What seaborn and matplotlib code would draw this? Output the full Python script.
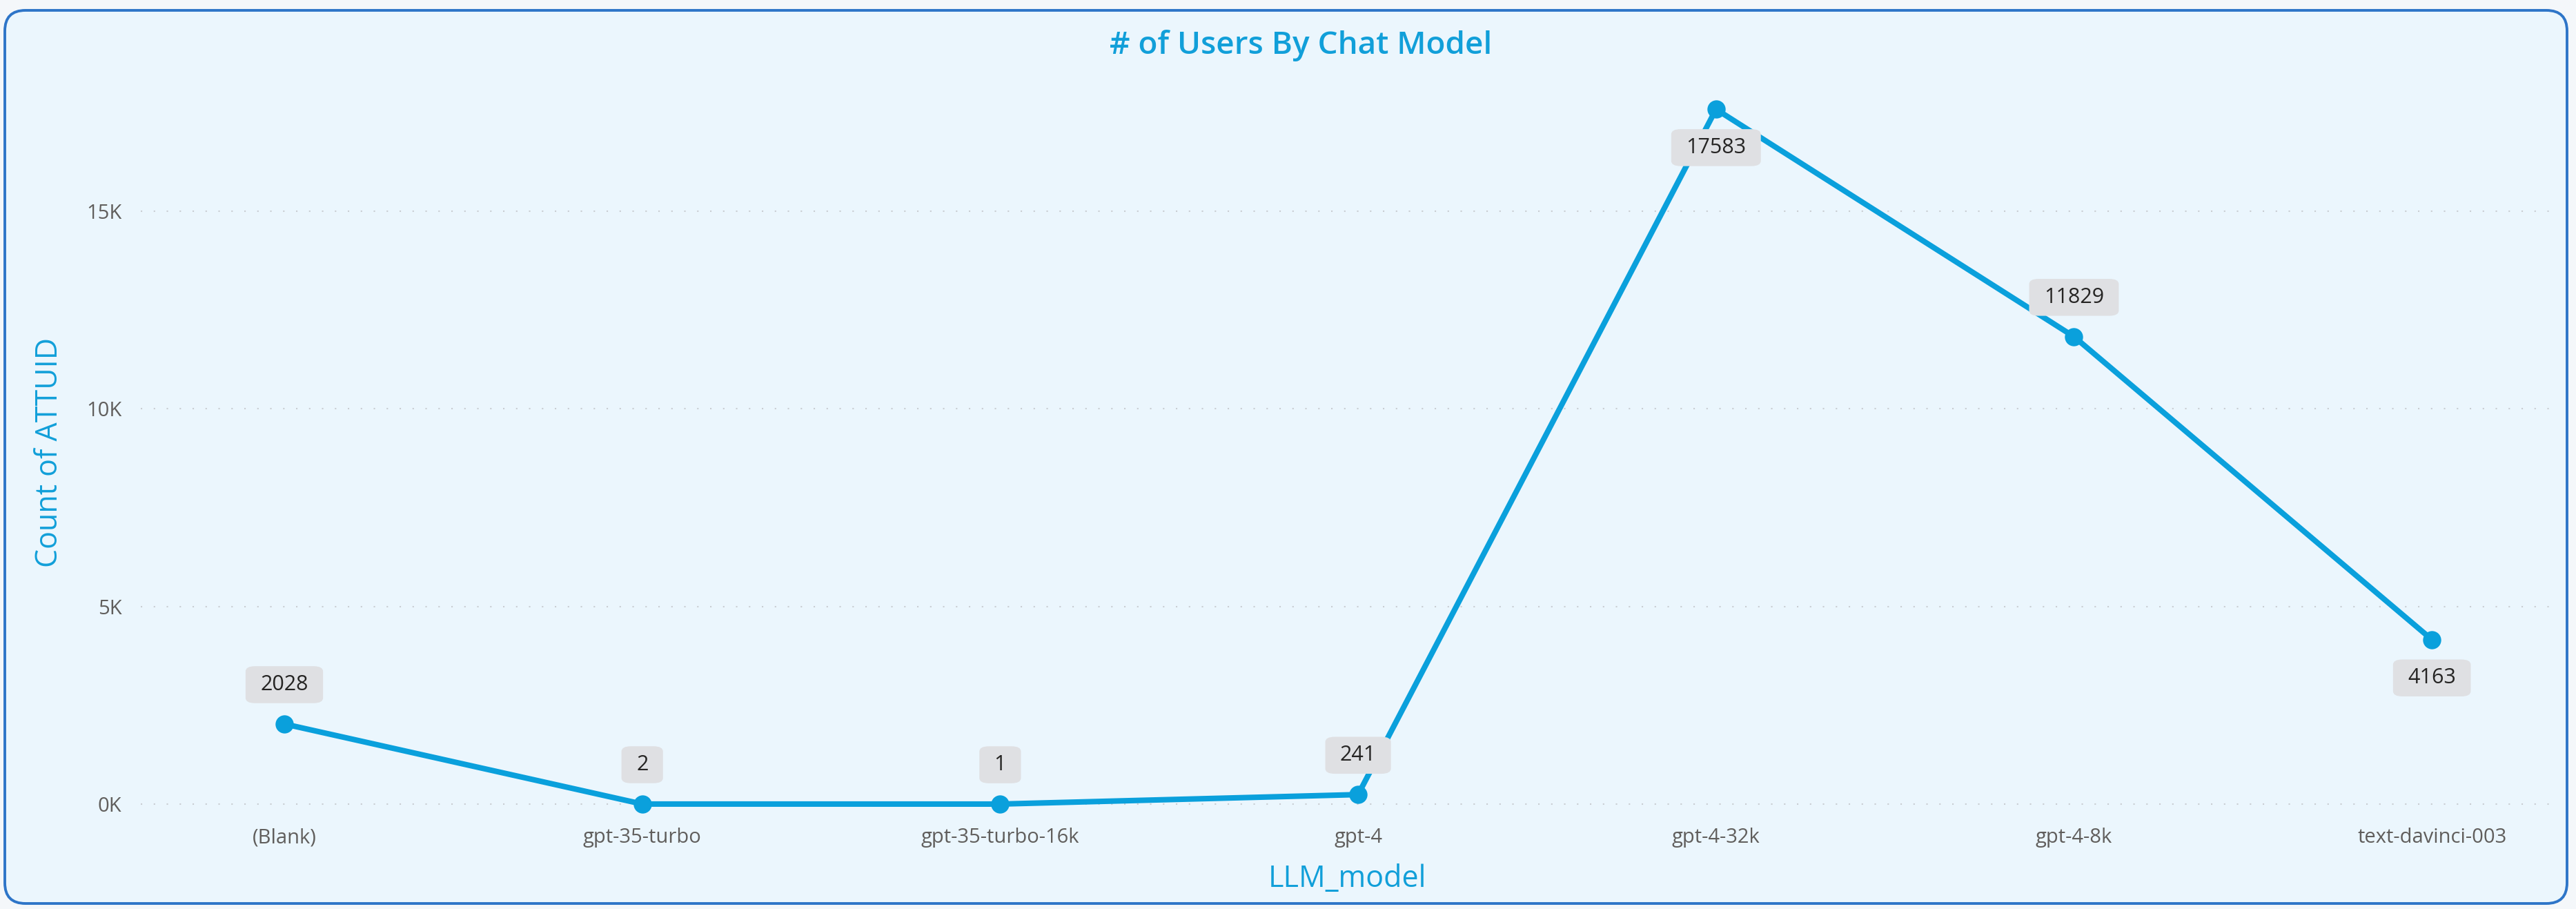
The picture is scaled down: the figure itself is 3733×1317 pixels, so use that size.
import pandas as pd
import matplotlib.pyplot as plt
import seaborn as sns
from matplotlib.patches import FancyBboxPatch
from matplotlib.ticker import FuncFormatter

# Users per chat model
models = ['(Blank)', 'gpt-35-turbo', 'gpt-35-turbo-16k', 'gpt-4',
          'gpt-4-32k', 'gpt-4-8k', 'text-davinci-003']
users = [2028, 2, 1, 241, 17583, 11829, 4163]
y_ticks = [0, 5000, 10000, 15000]

df = pd.DataFrame({'LLM_model': models, 'count': users})

line_color = '#0AA0DC'
title_color = '#119FD9'
bg_color = '#EBF6FD'

sns.set_theme(style='white')
plt.rcParams['font.family'] = ['Open Sans', 'DejaVu Sans']

fig = plt.figure(figsize=(37.33, 13.17), dpi=100)
fig.patch.set_facecolor('#F4F7FA')

# rounded card behind the chart
card = FancyBboxPatch((7 / 3733, 8 / 1317), 3713 / 3733, 1294 / 1317,
                      boxstyle='round,pad=0,rounding_size=0.008',
                      transform=fig.transFigure, facecolor=bg_color,
                      edgecolor='#2E75C8', linewidth=2.8,
                      mutation_aspect=3733 / 1317, zorder=-10)
fig.patches.append(card)

ax = fig.add_axes([204 / 3733, 0.104, (3700 - 204) / 3733, 0.820])
ax.set_facecolor('none')

sns.lineplot(data=df, x='LLM_model', y='count', sort=False, ax=ax,
             color=line_color, linewidth=5.8, marker='o', markersize=19,
             markeredgewidth=0, markeredgecolor=line_color)

ax.set_xlim(-0.401, 6.339)
ax.set_ylim(-262, 18600)
ax.set_yticks(y_ticks)
ax.yaxis.set_major_formatter(FuncFormatter(lambda v, p: f'{int(v / 1000)}K'))
ax.grid(axis='y', color='#C9CDD2', linestyle=(0, (1, 8)), linewidth=1.5)
ax.grid(axis='x', visible=False)
for s in ax.spines.values():
    s.set_visible(False)
ax.tick_params(axis='both', length=0, labelsize=21, labelcolor='#605E5C')
ax.tick_params(axis='y', pad=20)
ax.tick_params(axis='x', pad=14)

ax.set_xlabel('LLM_model', fontsize=31, color=title_color)
ax.set_ylabel('Count of ATTUID', fontsize=31, color=title_color)
ax.xaxis.set_label_coords(0.5, -0.0665)
ax.yaxis.set_label_coords(-0.0315, 0.486)

fig.text(0.505, 0.950, '# of Users By Chat Model', ha='center', va='center',
         fontsize=33, fontweight='semibold', color=title_color)

# data labels in grey boxes
label_side = ['up', 'up', 'up', 'up', 'down', 'up', 'down']
for i, (v, side) in enumerate(zip(users, label_side)):
    dy = 41 if side == 'up' else -40
    t = ax.annotate(str(v), (i, v), xytext=(0, dy), textcoords='offset points',
                    ha='center', va='center', fontsize=22, color='#252423',
                    bbox=dict(boxstyle='round,pad=0.7,rounding_size=0.45',
                              facecolor='#DFE0E3', edgecolor='none'))
    t.get_bbox_patch().set_mutation_aspect(0.55)

fig.savefig('out.png', dpi=100, facecolor=fig.get_facecolor())
plt.close()
